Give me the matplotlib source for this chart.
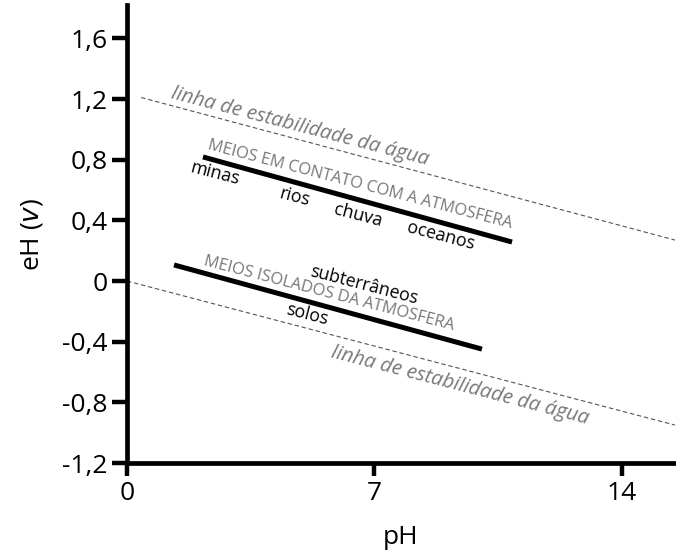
import matplotlib
matplotlib.use("Agg")
import matplotlib.pyplot as plt
import numpy as np

plt.rcParams['font.family'] = ['Open Sans', 'DejaVu Sans']

# Data
x_ticks = [0, 7, 14]
x_ticklabels = ["0", "7", "14"]
y_ticks = [-1.2, -0.8, -0.4, 0.0, 0.4, 0.8, 1.2, 1.6]
y_ticklabels = ["-1,2", "-0,8", "-0,4", "0", "0,4", "0,8", "1,2", "1,6"]

# water stability lines (pH, eH)
upper_stab_ph = [0.4, 15.5]
upper_stab_eh = [1.21, 0.27]
lower_stab_ph = [0.0, 15.5]
lower_stab_eh = [0.0, -0.95]

# environments
atm_ph = [2.15, 10.89]
atm_eh = [0.818, 0.257]
iso_ph = [1.33, 10.04]
iso_eh = [0.106, -0.449]

fig = plt.figure(figsize=(6.76, 5.55), dpi=100)
ax = fig.add_axes([127/676, 92/555, 548/676, 458/555])
ax.set_xlim(0, 15.5)
ax.set_ylim(-1.2, 1.82)

ax.plot(upper_stab_ph, upper_stab_eh, ls=(0, (4, 2.5)), color='#555555', lw=0.8)
ax.plot(lower_stab_ph, lower_stab_eh, ls=(0, (4, 2.5)), color='#555555', lw=0.8)
ax.plot(atm_ph, atm_eh, color='black', lw=3.6, solid_capstyle='butt')
ax.plot(iso_ph, iso_eh, color='black', lw=3.6, solid_capstyle='butt')

rot = -14.6
gray = '#777777'
ax.text(4.89, 1.016, "linha de estabilidade da água", rotation=rot, color=gray,
        fontsize=14.6, style='italic', ha='center', va='center', rotation_mode='anchor')
ax.text(9.42, -0.69, "linha de estabilidade da água", rotation=rot, color=gray,
        fontsize=14.6, style='italic', ha='center', va='center', rotation_mode='anchor')
ax.text(6.59, 0.633, "MEIOS EM CONTATO COM A ATMOSFERA", rotation=rot, color=gray,
        fontsize=11.8, ha='center', va='center', rotation_mode='anchor')
ax.text(5.71, -0.086, "MEIOS ISOLADOS DA ATMOSFERA", rotation=rot, color=gray,
        fontsize=11.8, ha='center', va='center', rotation_mode='anchor')

for txt, px, py in [("minas", 2.49, 0.706), ("rios", 4.75, 0.554),
                    ("chuva", 6.53, 0.435), ("oceanos", 8.88, 0.297),
                    ("subterrâneos", 6.70, -0.026), ("solos", 5.09, -0.224)]:
    ax.text(px, py, txt, rotation=rot, color='black', fontsize=12.8,
            ha='center', va='center', rotation_mode='anchor')

for s in ['top', 'right']:
    ax.spines[s].set_visible(False)
for s in ['left', 'bottom']:
    ax.spines[s].set_linewidth(3.4)
ax.spines['left'].set_bounds(-1.2, 1.82)

ax.set_xticks(x_ticks)
ax.set_xticklabels(x_ticklabels)
ax.set_yticks(y_ticks)
ax.set_yticklabels(y_ticklabels)
ax.tick_params(axis='y', direction='out', length=11, width=3.2, labelsize=19, pad=3)
ax.tick_params(axis='x', direction='out', length=9, width=3.2, labelsize=19, pad=4)

ax.set_xlabel("pH", fontsize=19, labelpad=14)
ax.set_ylabel("eH ($\\mathit{v}$)", fontsize=19, labelpad=12)

fig.savefig("out.png", dpi=100)
